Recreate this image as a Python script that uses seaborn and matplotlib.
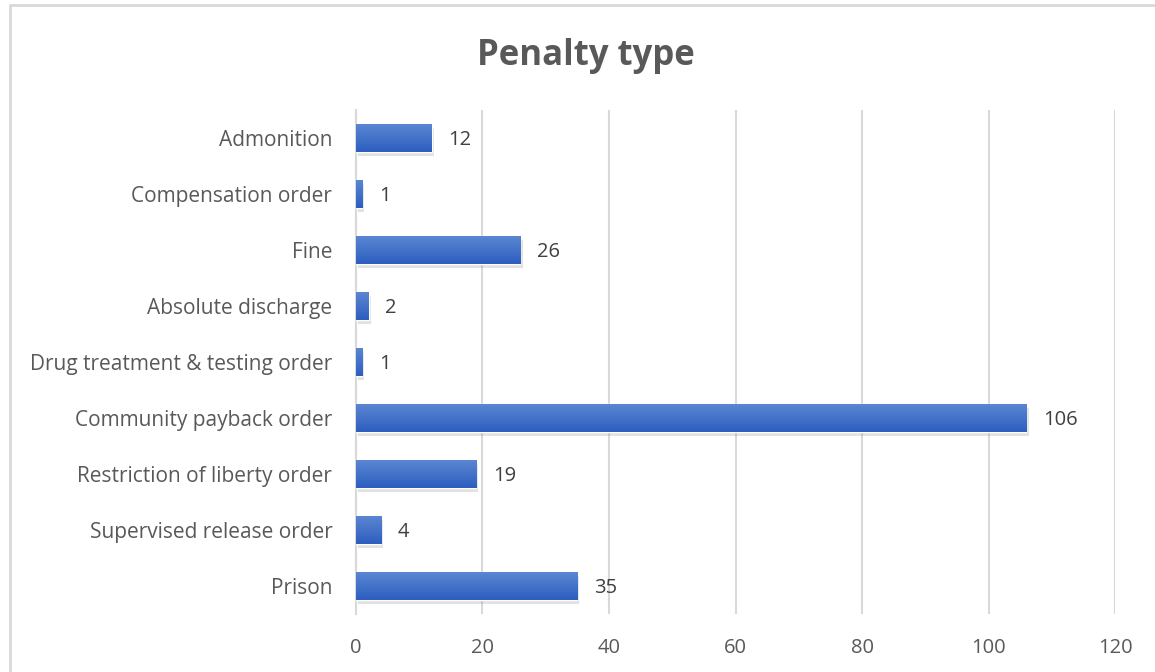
import numpy as np
import pandas as pd
import seaborn as sns
import matplotlib.pyplot as plt
import matplotlib.patheffects as pe
from matplotlib.lines import Line2D

categories = ['Admonition', 'Compensation order', 'Fine', 'Absolute discharge',
              'Drug treatment & testing order', 'Community payback order',
              'Restriction of liberty order', 'Supervised release order', 'Prison']
counts = [12, 1, 26, 2, 1, 106, 19, 4, 35]
xticks = [0, 20, 40, 60, 80, 100, 120]

df = pd.DataFrame({'Penalty': categories, 'Count': counts})

sns.set_style('white')
plt.rcParams['font.family'] = ['Open Sans', 'DejaVu Sans']

fig = plt.figure(figsize=(11.55, 6.72), dpi=100)
ax = fig.add_axes([0.3082, 0.0863, 0.6572, 0.75])

sns.barplot(data=df, x='Count', y='Penalty', orient='h', color='#3A6BC9',
            width=0.5, saturation=1, ax=ax, zorder=3)

# vertical gradient + soft shadow on each bar, like the office chart
# (y axis is inverted, so first row of the image ends up at the bottom)
grad = np.linspace(1, 0, 64).reshape(-1, 1)
cmap = sns.blend_palette(['#5A86D2', '#2D5EBF'], as_cmap=True)
for p in ax.patches:
    x0, y0 = p.get_x(), p.get_y()
    w, h = p.get_width(), p.get_height()
    p.set_path_effects([pe.SimplePatchShadow(offset=(1.5, -3), shadow_rgbFace='#7f7f7f', alpha=0.22),
                        pe.Normal()])
    im = ax.imshow(grad, extent=[x0, x0 + w, y0, y0 + h], cmap=cmap,
                   aspect='auto', zorder=4, interpolation='bilinear')
    im.set_clip_path(p)

for i, v in enumerate(counts):
    ax.annotate(str(v), (v, i), xytext=(12, -1.5), textcoords='offset points',
                va='center', ha='left', fontsize=14.5, color='#404040')

ax.set_xlim(0, 120)
ax.set_ylim(8.5, -0.5)
ax.set_xticks(xticks)
ax.set_xlabel('')
ax.set_ylabel('')
ax.tick_params(axis='both', length=0, labelsize=15, labelcolor='#595959')
ax.tick_params(axis='x', pad=17, labelsize=14.5)
ax.tick_params(axis='y', pad=17)
ax.xaxis.grid(True, color='#D9D9D9', linewidth=1.5, zorder=0)
ax.set_axisbelow(True)
for s in ['top', 'right', 'bottom']:
    ax.spines[s].set_visible(False)
ax.spines['left'].set_color('#D9D9D9')
ax.spines['left'].set_linewidth(1.5)

fig.text(0.507, 0.917, 'Penalty type', ha='center', va='center',
         fontsize=25, fontweight='bold', color='#595959')

# chart frame (top and left edges visible)
fig.add_artist(Line2D([10 / 1155, 1.0], [1 - 5 / 672, 1 - 5 / 672],
                      transform=fig.transFigure, color='#D9D9D9', lw=2))
fig.add_artist(Line2D([10 / 1155, 10 / 1155], [0, 1 - 5 / 672],
                      transform=fig.transFigure, color='#D9D9D9', lw=2))

fig.savefig('out.png', dpi=100)
